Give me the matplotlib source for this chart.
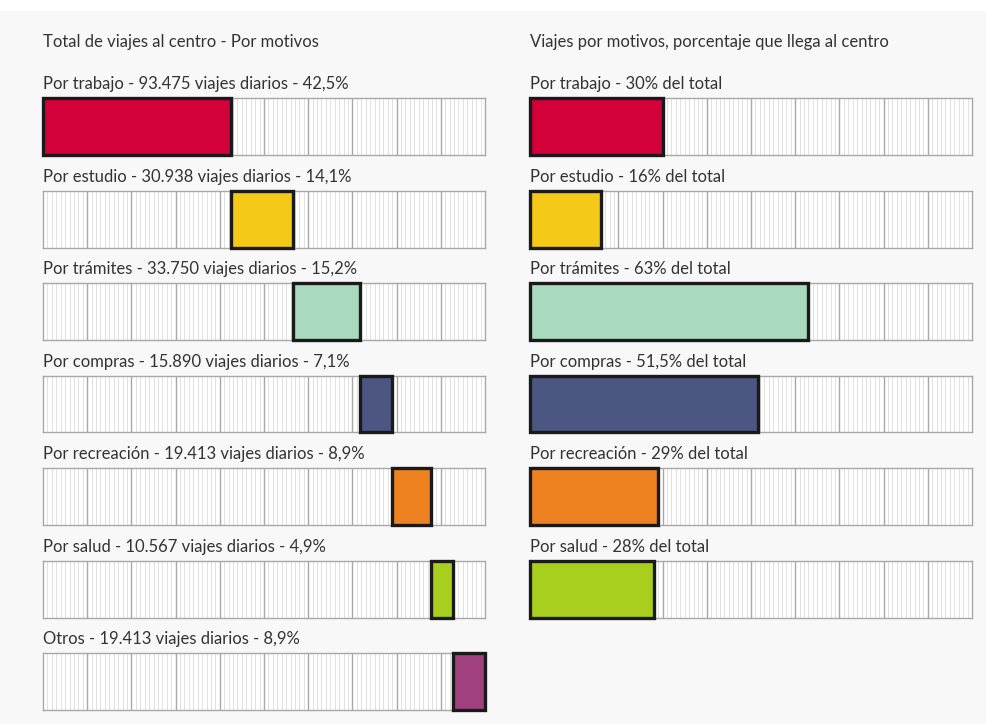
import matplotlib
matplotlib.use("Agg")
import matplotlib.pyplot as plt
import numpy as np

plt.rcParams["font.family"] = ["Lato", "DejaVu Sans"]

# --- data ---------------------------------------------------------------
left_title = "Total de viajes al centro - Por motivos"
right_title = "Viajes por motivos, porcentaje que llega al centro"

left_labels = [
    "Por trabajo - 93.475 viajes diarios - 42,5%",
    "Por estudio - 30.938 viajes diarios - 14,1%",
    "Por trámites - 33.750 viajes diarios - 15,2%",
    "Por compras - 15.890 viajes diarios - 7,1%",
    "Por recreación - 19.413 viajes diarios - 8,9%",
    "Por salud - 10.567 viajes diarios - 4,9%",
    "Otros - 19.413 viajes diarios - 8,9%",
]
left_share = [42.5, 14.1, 15.2, 7.1, 8.9, 4.9, 8.9]

right_labels = [
    "Por trabajo - 30% del total",
    "Por estudio - 16% del total",
    "Por trámites - 63% del total",
    "Por compras - 51,5% del total",
    "Por recreación - 29% del total",
    "Por salud - 28% del total",
]
right_share = [30, 16, 63, 51.5, 29, 28]

colors = ["#d4003a", "#f5c918", "#a9d9bf", "#4b5682",
          "#ef8220", "#a8cf1e", "#a0407e"]

# --- layout (pixels) -----------------------------------------------------
W, H = 986, 724
COL_X = [43, 530]
BOX_W = 442
BOX_H = 57
ROW_TOP0 = 98
ROW_STEP = 92.5
FONT_SIZE = 12
TEXT_COLOR = "#333333"

fig = plt.figure(figsize=(W / 100, H / 100), dpi=100, facecolor="#f8f8f8")
# thin white strip on top of the scan
fig.patches.append(plt.Rectangle((0, 1 - 10 / H), 1, 10 / H,
                                 transform=fig.transFigure,
                                 color="white", zorder=0))


def track_axes(col, row):
    top = ROW_TOP0 + row * ROW_STEP
    rect = [COL_X[col] / W, 1 - (top + BOX_H) / H, BOX_W / W, BOX_H / H]
    ax = fig.add_axes(rect)
    ax.set_xlim(0, 100)
    ax.set_ylim(0, 1)
    ax.set_facecolor("white")
    ax.set_xticks([])
    ax.set_yticks([])
    for s in ax.spines.values():
        s.set_color("#a8a8a8")
        s.set_linewidth(1.0)
    for x in np.arange(1, 100):
        if x % 10 == 0:
            ax.axvline(x, color="#a8a8a8", lw=1.0, zorder=1)
        else:
            ax.axvline(x, color="#dcdcdc", lw=0.6, zorder=1)
    return ax


def draw_bar(ax, start, width, color):
    end = min(start + width, 100)
    ax.barh(0.5, end - start, left=start, height=1.0, align="center",
            color=color, edgecolor="#1a1a1a", linewidth=2.4,
            zorder=3, clip_on=False)


def draw_label(ax, text):
    ax.annotate(text, xy=(0, 1), xycoords="axes fraction",
                xytext=(0, 4), textcoords="offset points",
                ha="left", va="bottom", fontsize=FONT_SIZE, color=TEXT_COLOR)


# left column: cumulative position
starts = np.concatenate([[0], np.cumsum(left_share)[:-1]])
for i, (lab, share, start) in enumerate(zip(left_labels, left_share, starts)):
    ax = track_axes(0, i)
    draw_bar(ax, start, share, colors[i])
    draw_label(ax, lab)

# right column: share from zero
for i, (lab, share) in enumerate(zip(right_labels, right_share)):
    ax = track_axes(1, i)
    draw_bar(ax, 0, share, colors[i])
    draw_label(ax, lab)

fig.text(COL_X[0] / W, 1 - 42 / H, left_title, ha="left", va="center",
         fontsize=FONT_SIZE, color=TEXT_COLOR)
fig.text(COL_X[1] / W, 1 - 42 / H, right_title, ha="left", va="center",
         fontsize=FONT_SIZE, color=TEXT_COLOR)

fig.savefig("out.png", dpi=100, facecolor=fig.get_facecolor())
